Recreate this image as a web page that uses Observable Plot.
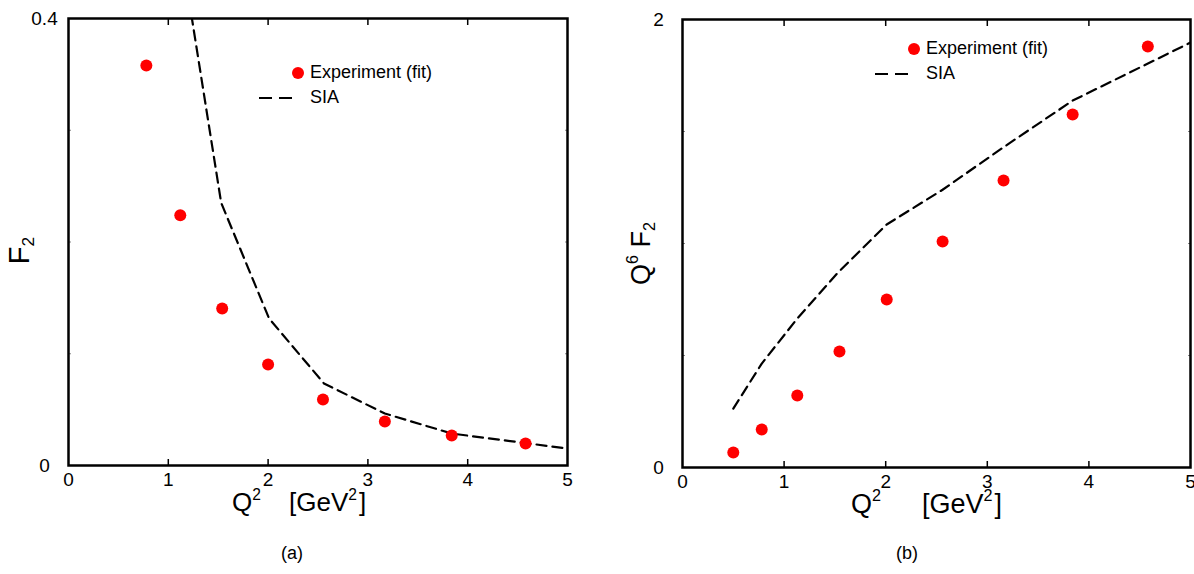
<!DOCTYPE html>
<html>
<head>
<meta charset="utf-8">
<script src="https://cdn.jsdelivr.net/npm/d3@7"></script>
<script src="https://cdn.jsdelivr.net/npm/@observablehq/plot@0.6"></script>
<style>
  html, body { margin: 0; padding: 0; background: #fff; }
  #wrap { position: relative; width: 1194px; height: 574px; font-family: "Liberation Sans", Arial, Helvetica, sans-serif; color: #000; }
  .panel { position: absolute; top: 0; }
  .panel text { font-size: 19px !important; }
  .lab { position: absolute; white-space: nowrap; line-height: 1; }
  .lab sup { font-size: 60%; vertical-align: 0; position: relative; top: -0.72em; }
  .lab sup.g { margin-right: 2px; }
  .lab sub { font-size: 60%; vertical-align: 0; position: relative; top: 0.3em; }
  .leg { position: absolute; font-size: 18px; white-space: nowrap; line-height: 1; }
  .leg svg { vertical-align: middle; }
</style>
</head>
<body>
<div id="wrap"></div>
<script>
// ---- data ----
// panel (a): F2
const q2ExpA  = [0.78, 1.12, 1.54, 2.00, 2.55, 3.17, 3.84, 4.58];
const f2Exp   = [0.358, 0.224, 0.1405, 0.0904, 0.059, 0.0394, 0.0268, 0.0197];
const q2SiaA  = [1.13, 1.53, 2.01, 2.56, 3.17, 3.84, 5.0];
const f2Sia   = [0.46, 0.235, 0.1315, 0.0734, 0.0465, 0.0286, 0.0152];
// panel (b): Q^6 F2
const q2ExpB  = [0.50, 0.78, 1.13, 1.545, 2.01, 2.56, 3.16, 3.84, 4.58];
const q6f2Exp = [0.067, 0.170, 0.321, 0.518, 0.750, 1.009, 1.281, 1.576, 1.879];
const q2SiaB  = [0.50, 0.78, 1.13, 1.53, 2.01, 2.56, 3.17, 3.84, 5.0];
const q6f2Sia = [0.263, 0.464, 0.665, 0.87, 1.085, 1.24, 1.433, 1.638, 1.897];
// ticks
const xTicks = [0, 1, 2, 3, 4, 5];
const xInner = [1, 2, 3, 4];
const yTicksA = [0, 0.4], yMinorA = [0.1, 0.2, 0.3];
const yTicksB = [0, 2],   yMinorB = [0.5, 1, 1.5];
const legendLabels = ["Experiment (fit)", "SIA"];
const captions = ["(a)", "(b)"];

const FONT = '"Liberation Sans", Arial, Helvetica, sans-serif';
const toRows = (xs, ys) => xs.map((x, i) => ({x, y: ys[i]}));

function panel({ml, mr, mt, mb, yDomain, yTicks, yMinor, exp, sia}) {
  return Plot.plot({
    width: 597, height: 574,
    marginLeft: ml, marginRight: mr, marginTop: mt, marginBottom: mb,
    style: {fontFamily: FONT, fontSize: "19px", background: "white", color: "black", overflow: "visible"},
    x: {domain: [0, 5], label: null},
    y: {domain: yDomain, label: null},
    marks: [
      Plot.axisX({ticks: xTicks, tickSize: 0, tickPadding: 7, label: null, tickFormat: d => String(d)}),
      Plot.axisX({ticks: xInner, tickSize: -6, tickFormat: () => "", label: null, strokeWidth: 1.5}),
      Plot.axisX({anchor: "top", ticks: xInner, tickSize: -6, tickFormat: () => "", label: null, strokeWidth: 1.5}),
      Plot.axisY({ticks: yTicks, tickSize: 0, tickPadding: 24, textAnchor: "middle", tickFormat: d => String(d), label: null}),
      Plot.axisY({ticks: yMinor, tickSize: -3, tickFormat: () => "", label: null, stroke: "#888"}),
      Plot.axisY({anchor: "right", ticks: yMinor, tickSize: -3, tickFormat: () => "", label: null, stroke: "#888"}),
      Plot.line(sia, {x: "x", y: "y", stroke: "black", strokeWidth: 2.2, strokeDasharray: "10,6", clip: true}),
      Plot.dot(exp, {x: "x", y: "y", r: 6, fill: "#f00", stroke: "none"}),
      Plot.frame({stroke: "black", strokeWidth: 2.5})
    ]
  });
}

const wrap = document.getElementById("wrap");

const pA = panel({ml: 68, mr: 30, mt: 18, mb: 109, yDomain: [0, 0.4], yTicks: yTicksA, yMinor: yMinorA,
  exp: toRows(q2ExpA, f2Exp), sia: toRows(q2SiaA, f2Sia)});
pA.classList.add("panel"); pA.style.left = "0px";
wrap.appendChild(pA);

const pB = panel({ml: 85, mr: 4, mt: 19, mb: 107, yDomain: [0, 2], yTicks: yTicksB, yMinor: yMinorB,
  exp: toRows(q2ExpB, q6f2Exp), sia: toRows(q2SiaB, q6f2Sia)});
pB.classList.add("panel"); pB.style.left = "597px";
wrap.appendChild(pB);

function addLab(html, css) {
  const d = document.createElement("div");
  d.className = "lab";
  d.innerHTML = html;
  Object.assign(d.style, css);
  wrap.appendChild(d);
  return d;
}
// x-axis titles
addLab('Q<sup>2</sup>', {left: "232px", top: "489px", fontSize: "26px"});
addLab('[GeV<sup class="g">2</sup>]', {left: "289px", top: "489px", fontSize: "26px"});
addLab('Q<sup>2</sup>', {left: "851px", top: "491px", fontSize: "27px"});
addLab('[GeV<sup class="g">2</sup>]', {left: "922px", top: "491px", fontSize: "27px"});
// y-axis titles (rotated)
addLab('F<sub>2</sub>', {left: "6px", top: "236px", fontSize: "29px", transform: "rotate(-90deg)", transformOrigin: "center"});
addLab('Q<sup>6</sup> F<sub>2</sub>', {left: "610px", top: "240px", fontSize: "27px", transform: "rotate(-90deg)", transformOrigin: "center"});
// captions
addLab(captions[0], {left: "281px", top: "544px", fontSize: "18px"});
addLab(captions[1], {left: "896px", top: "544px", fontSize: "18px"});

// legends
function addLegend(x, y) {
  const a = document.createElement("div");
  a.className = "leg";
  a.style.left = x + "px"; a.style.top = y + "px";
  a.innerHTML = `<div style="height:25px"><span style="display:inline-block;width:50px;text-align:right"><svg width="14" height="14"><circle cx="7" cy="7" r="6" fill="#f00"/></svg></span> ${legendLabels[0]}</div>` +
    `<div style="height:25px"><svg width="50" height="14"><line x1="4" y1="7" x2="38" y2="7" stroke="black" stroke-width="2.2" stroke-dasharray="13,7"/></svg> ${legendLabels[1]}</div>`;
  wrap.appendChild(a);
}
addLegend(255, 63);
addLegend(871, 39);
</script>
</body>
</html>
